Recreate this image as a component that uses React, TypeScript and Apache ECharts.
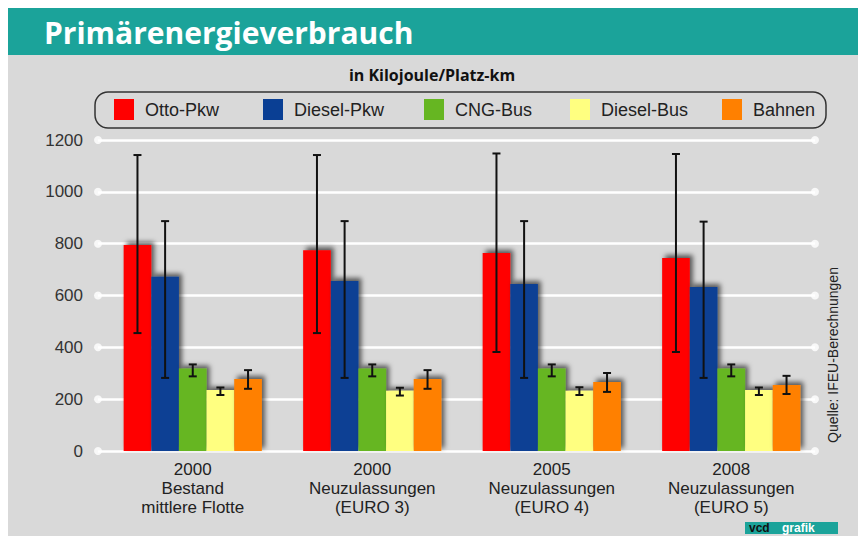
import React, { useEffect, useRef } from "react";
import * as echarts from "echarts";

const categories = [
  "2000\nBestand\nmittlere Flotte",
  "2000\nNeuzulassungen\n(EURO 3)",
  "2005\nNeuzulassungen\n(EURO 4)",
  "2008\nNeuzulassungen\n(EURO 5)",
];
const yTicks = [0, 200, 400, 600, 800, 1000, 1200];

const seriesNames = ["Otto-Pkw", "Diesel-Pkw", "CNG-Bus", "Diesel-Bus", "Bahnen"];
const seriesColors = ["#ff0000", "#0a3f94", "#66b622", "#ffff80", "#ff8000"];

const ottoPkw = [795, 775, 764, 745];
const ottoLow = [455, 455, 382, 382];
const ottoHigh = [1142, 1142, 1148, 1146];

const dieselPkw = [672, 656, 644, 633];
const dieselLow = [282, 282, 282, 282];
const dieselHigh = [887, 887, 887, 885];

const cngBus = [318, 318, 318, 318];
const cngLow = [288, 288, 288, 288];
const cngHigh = [334, 334, 334, 334];

const dieselBus = [235, 232, 232, 235];
const dieselBusLow = [216, 214, 216, 216];
const dieselBusHigh = [245, 244, 246, 245];

const bahnen = [278, 278, 266, 255];
const bahnenLow = [240, 240, 228, 220];
const bahnenHigh = [312, 312, 301, 290];

const values = [ottoPkw, dieselPkw, cngBus, dieselBus, bahnen];
const lows = [ottoLow, dieselLow, cngLow, dieselBusLow, bahnenLow];
const highs = [ottoHigh, dieselHigh, cngHigh, dieselBusHigh, bahnenHigh];

const legendLefts = [114, 263, 424, 570, 722];

const FONT = "'Liberation Sans Narrow', 'Liberation Sans', Arial, sans-serif";
const GAP = 0.23;

export default function App() {
  const ref = useRef<HTMLDivElement>(null);
  useEffect(() => {
    if (!ref.current) return;
    const chart = echarts.init(ref.current, null, { renderer: "svg" });

    const barSeries = values.map((v, i) => ({
      name: seriesNames[i],
      type: "bar",
      xAxisIndex: 1,
      yAxisIndex: 1,
      data: v,
      barGap: "0%",
      barCategoryGap: GAP * 100 + "%",
      z: 3,
      itemStyle: {
        color: seriesColors[i],
        shadowColor: "rgba(0,0,0,0.6)",
        shadowBlur: 5,
        shadowOffsetX: 3,
        shadowOffsetY: -3,
      },
    }));

    const errSeries = values.map((v, k) => ({
      name: "err" + k,
      type: "custom",
      xAxisIndex: 1,
      yAxisIndex: 1,
      z: 5,
      data: v.map((_, j) => [j, lows[k][j], highs[k][j]]),
      encode: { x: 0, y: [1, 2] },
      renderItem: (params: any, api: any) => {
        const cat = api.value(0);
        const lo = api.coord([cat, api.value(1)]);
        const hi = api.coord([cat, api.value(2)]);
        const catW = api.size([1, 0])[0];
        const barW = (catW * (1 - GAP)) / 5;
        const x = lo[0] + (k - 2) * barW;
        const cap = 4;
        const style = { stroke: "#111", lineWidth: 2 };
        return {
          type: "group",
          children: [
            { type: "line", shape: { x1: x, y1: hi[1], x2: x, y2: lo[1] }, style },
            { type: "line", shape: { x1: x - cap, y1: hi[1], x2: x + cap, y2: hi[1] }, style },
            { type: "line", shape: { x1: x - cap, y1: lo[1], x2: x + cap, y2: lo[1] }, style },
          ],
        };
      },
    }));

    const dots = {
      type: "scatter",
      xAxisIndex: 0,
      yAxisIndex: 0,
      symbolSize: 8,
      z: 2,
      itemStyle: { color: "#ffffff" },
      data: yTicks.flatMap((t) => [[0, t], [1, t]]),
      silent: true,
    };

    chart.setOption({
      animation: false,
      backgroundColor: "#ffffff",
      graphic: [
        { type: "rect", z: -10, shape: { x: 8, y: 8, width: 850, height: 47 }, style: { fill: "#1ba39a" } },
        { type: "rect", z: -10, shape: { x: 8, y: 55, width: 850, height: 481 }, style: { fill: "#d9d9d9" } },
        {
          type: "text",
          x: 44,
          y: 32,
          style: {
            text: "Primärenergieverbrauch",
            fill: "#ffffff",
            font: "bold 30px 'Open Sans', sans-serif",
            verticalAlign: "middle",
          },
        },
        {
          type: "text",
          x: 432,
          y: 75,
          style: {
            text: "in Kilojoule/Platz-km",
            fill: "#111",
            font: "bold 16px 'Open Sans', sans-serif",
            align: "center",
            verticalAlign: "middle",
          },
        },
        {
          type: "rect",
          shape: { x: 95, y: 92, width: 731, height: 36, r: 13 },
          style: { fill: "none", stroke: "#333", lineWidth: 1.5 },
        },
        {
          type: "text",
          x: 833,
          y: 355,
          rotation: Math.PI / 2,
          style: {
            text: "Quelle: IFEU-Berechnungen",
            fill: "#222",
            font: "14px " + FONT,
            align: "center",
            verticalAlign: "middle",
          },
        },
        {
          type: "group",
          x: 745,
          y: 522,
          children: [
            { type: "rect", shape: { x: 0, y: 0, width: 93, height: 12 }, style: { fill: "#1ba39a" } },
            { type: "text", x: 4, y: 6, style: { text: "vcd", fill: "#111", font: "bold 12px sans-serif", verticalAlign: "middle" } },
            { type: "text", x: 37, y: 6, style: { text: "grafik", fill: "#ffffff", font: "bold 12px sans-serif", verticalAlign: "middle" } },
          ],
        },
      ],
      legend: seriesNames.map((n, i) => ({
        data: [n],
        left: legendLefts[i],
        top: 99,
        padding: 0,
        itemWidth: 20,
        itemHeight: 21,
        icon: "rect",
        itemStyle: { shadowBlur: 0, shadowOffsetX: 0, shadowOffsetY: 0, shadowColor: "transparent" },
        textStyle: { fontSize: 18, color: "#222", fontFamily: FONT, padding: [0, 0, 0, 6] },
      })),
      grid: [
        { left: 98, right: 49, top: 140, bottom: 87 },
        { left: 103, right: 43, top: 140, bottom: 87 },
      ],
      xAxis: [
        { type: "value", gridIndex: 0, min: 0, max: 1, show: false },
        {
          type: "category",
          gridIndex: 1,
          data: categories,
          axisLine: { show: false },
          axisTick: { show: false },
          axisLabel: {
            margin: 9,
            fontSize: 17,
            lineHeight: 19,
            color: "#222",
            fontFamily: FONT,
          },
        },
      ],
      yAxis: [
        {
          type: "value",
          gridIndex: 0,
          min: 0,
          max: 1200,
          interval: 200,
          axisLine: { show: false },
          axisTick: { show: false },
          axisLabel: {
            margin: 15,
            fontSize: 17,
            color: "#333",
            fontFamily: FONT,
            formatter: (v: number) => String(v),
          },
          splitLine: { show: true, lineStyle: { color: "#ffffff", width: 2.5 } },
        },
        { type: "value", gridIndex: 1, min: 0, max: 1200, interval: 200, show: false, splitLine: { show: false } },
      ],
      series: [dots, ...barSeries, ...errSeries],
    });
    return () => chart.dispose();
  }, []);
  return (
    <div
      ref={ref}
      style={{ position: "fixed", left: 0, top: 0, width: 864, height: 538 }}
    />
  );
}
